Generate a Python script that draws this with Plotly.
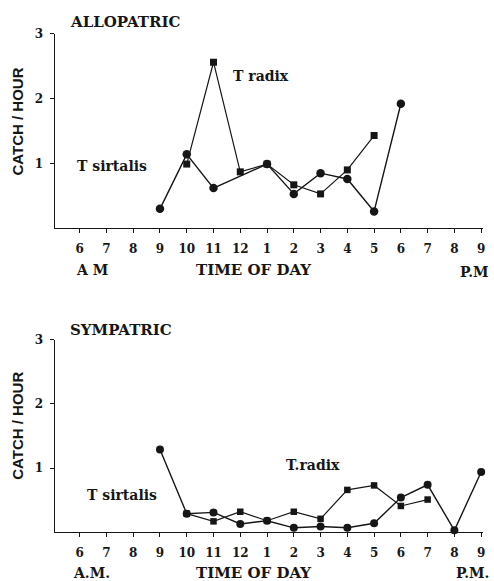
import plotly.graph_objects as go
from plotly.subplots import make_subplots

# Hours of the day on a 24-hour scale (6 AM .. 9 PM)
hour_ticks = list(range(6, 22))
hour_labels = ["6", "7", "8", "9", "10", "11", "12", "1", "2", "3",
               "4", "5", "6", "7", "8", "9"]

# Allopatric catch per hour
allo_sirtalis_hours = [9, 10, 11, 13, 14, 15, 16, 17, 18]
allo_sirtalis_catch = [0.30, 1.14, 0.62, 0.99, 0.53, 0.85, 0.76, 0.26, 1.92]
allo_radix_hours = [10, 11, 12, 13, 14, 15, 16, 17]
allo_radix_catch = [0.99, 2.56, 0.87, 0.99, 0.67, 0.53, 0.90, 1.43]

# Sympatric catch per hour
sym_sirtalis_hours = [9, 10, 11, 12, 13, 14, 15, 16, 17, 18, 19, 20, 21]
sym_sirtalis_catch = [1.29, 0.29, 0.31, 0.13, 0.18, 0.07, 0.09, 0.07, 0.14,
                      0.54, 0.74, 0.03, 0.94]
sym_radix_hours = [10, 11, 12, 13, 14, 15, 16, 17, 18, 19]
sym_radix_catch = [0.29, 0.17, 0.32, 0.18, 0.32, 0.21, 0.66, 0.73, 0.41, 0.51]

y_ticks = [1, 2, 3]

W, H = 494, 581
INK = "#161616"
SERIF = "DejaVu Serif"
SANS = "Liberation Sans"


def fx(px):
    return px / W


def fy(py):
    return 1 - py / H


fig = make_subplots(rows=2, cols=1)

panels = [
    (1, allo_sirtalis_hours, allo_sirtalis_catch, allo_radix_hours, allo_radix_catch, 8.5, 7),
    (2, sym_sirtalis_hours, sym_sirtalis_catch, sym_radix_hours, sym_radix_catch, 8, 6.5),
]
for row, sh, sc, rh, rc, csize, ssize in panels:
    fig.add_trace(go.Scatter(
        x=sh, y=sc, mode="lines+markers", name="T sirtalis",
        line=dict(color=INK, width=1.4),
        marker=dict(symbol="circle", size=csize, color=INK),
        cliponaxis=False, showlegend=False), row=row, col=1)
    fig.add_trace(go.Scatter(
        x=rh, y=rc, mode="lines+markers", name="T radix",
        line=dict(color=INK, width=1.2),
        marker=dict(symbol="square", size=ssize, color=INK),
        cliponaxis=False, showlegend=False), row=row, col=1)

x_dom = [fx(55), fx(485)]
axis_common = dict(showline=True, linecolor=INK, linewidth=1.3, showgrid=False,
                   zeroline=False, ticks="outside", ticklen=4, tickwidth=1.2,
                   tickcolor=INK)
tickfont = dict(family=SERIF, size=12, color=INK, weight="bold")

for row, ybot, ytop in [(1, 224, 27), (2, 531.7, 336.7)]:
    fig.update_xaxes(domain=x_dom, range=[5.07, 21.07], tickvals=hour_ticks,
                     ticktext=hour_labels, tickfont=tickfont,
                     ticklabelstandoff=5, **axis_common, row=row, col=1)
    fig.update_yaxes(domain=[fy(ybot), fy(ytop)], range=[0, 3], tickvals=y_ticks,
                     tickfont=tickfont, ticklabelstandoff=4, **axis_common,
                     row=row, col=1)

annotations = []


def label(text, x, y, size=13, family=SERIF, bold=True, angle=0, anchor="center"):
    annotations.append(dict(
        text=text, x=fx(x), y=fy(y), xref="paper", yref="paper",
        showarrow=False, textangle=angle, xanchor=anchor, yanchor="middle",
        font=dict(family=family, size=size, color=INK,
                  weight="bold" if bold else "normal")))


# Upper panel text
label("ALLOPATRIC", 68, 15, size=15, anchor="left")
label("CATCH / HOUR", 18, 116, size=15, family=SANS, angle=-90)
label("T radix", 232, 70, size=14, anchor="left")
label("T sirtalis", 75, 161, size=14, anchor="left")
label("A M", 92, 266, size=14)
label("TIME OF DAY", 255, 266, size=15)
label("P.M", 476, 268, size=14)

# Lower panel text
label("SYMPATRIC", 68, 327, size=15, anchor="left")
label("CATCH / HOUR", 18, 424, size=15, family=SANS, angle=-90)
label("T.radix", 285, 464, size=14, anchor="left")
label("T sirtalis", 85, 494, size=14, anchor="left")
label("A.M.", 92, 573, size=14)
label("TIME OF DAY", 255, 573, size=15)
label("P.M.", 474, 573, size=14)

fig.update_layout(
    width=W, height=H, margin=dict(l=0, r=0, t=0, b=0),
    paper_bgcolor="white", plot_bgcolor="white",
    annotations=annotations, showlegend=False,
)

fig.write_html("out.html")
